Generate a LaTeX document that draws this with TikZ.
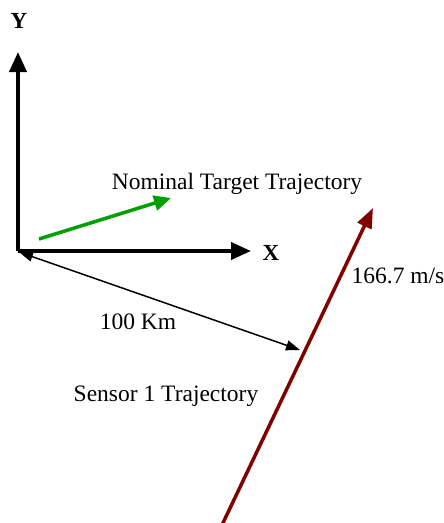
\documentclass[tikz,border=0pt]{standalone}
\usepackage{fontspec}
\setmainfont{Liberation Serif}
\usetikzlibrary{arrows.meta}
\definecolor{tgreen}{RGB}{0,160,0}
\definecolor{maroon}{RGB}{128,0,0}
\tikzset{
  lbl/.style={inner sep=0pt, font=\fontsize{23.5}{26}\selectfont},
  axlbl/.style={inner sep=0pt, font=\fontsize{23}{26}\selectfont\bfseries},
  axis/.style={line width=4pt, -{Triangle[length=20pt,width=17pt]}},
}
\begin{document}
\begin{tikzpicture}[x=1pt,y=-1pt]
\useasboundingbox (0,0) rectangle (444,523);
\coordinate (O) at (18,251);
\coordinate (Ytip) at (18,52);
\coordinate (Xtip) at (251,251);
\draw[axis] (O) -- (Ytip);
\draw[axis] (O) -- (Xtip);
\node[axlbl] (ylab) at (19,21) {Y};
\node[axlbl] (xlab) at (271,253) {X};
\coordinate (gs) at (39,239);
\coordinate (ge) at (171,198);
\draw[tgreen, line width=3.5pt, -{Triangle[length=17pt,width=15pt]}] (gs) -- (ge);
\node[lbl] (nt) at (237,184) {Nominal Target Trajectory};
\coordinate (ss) at (222,525);
\coordinate (se) at (373,208);
\draw[maroon, line width=3.5pt, -{Triangle[length=20pt,width=15pt]}] (ss) -- (se);
\node[lbl] (vel) at (398,276) {166.7 m/s};
\coordinate (ds) at (19,252);
\coordinate (de) at (300,350);
\draw[line width=1.5pt, {Triangle[length=14pt,width=10pt]}-{Triangle[length=14pt,width=10pt]}] (ds) -- (de);
\node[lbl] (dist) at (138,322) {100 Km};
\node[lbl] (sen) at (166,396) {Sensor 1 Trajectory};
\end{tikzpicture}
\end{document}
